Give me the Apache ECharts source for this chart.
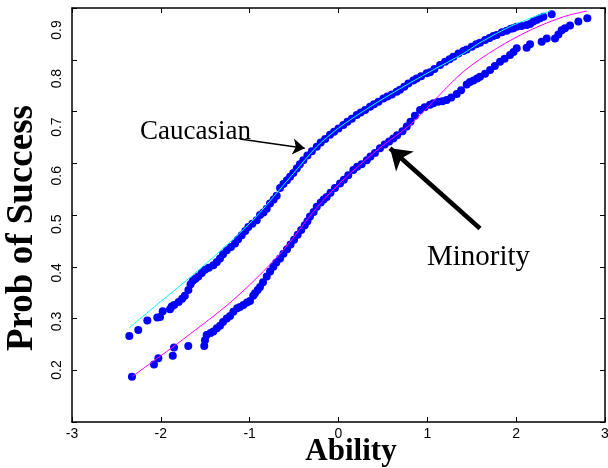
<!DOCTYPE html>
<html>
<head>
<meta charset="utf-8">
<script src="https://cdn.jsdelivr.net/npm/echarts@6/dist/echarts.min.js"></script>
<style>
  html, body { margin: 0; padding: 0; background: #fff; }
  #chart { width: 608px; height: 468px; }
</style>
</head>
<body>
<div id="chart"></div>
<script>
// ---- data ----
const xTicks = [-3, -2, -1, 0, 1, 2, 3];
const yTicks = [0.2, 0.3, 0.4, 0.5, 0.6, 0.7, 0.8, 0.9];

const cauX = [-2.355,-2.254,-2.152,-2.04,-2.009,-1.979,-1.897,-1.878,-1.85,-1.80,-1.76,-1.73,-1.69,-1.665,-1.64,-1.61,-1.578,-1.54,-1.503,-1.46,-1.409,-1.37,-1.334,-1.30,-1.258,-1.21,-1.165,-1.13,-1.09,-1.05,-1.015,-0.97,-0.921,-0.884,-0.845,-0.808,-0.771,-0.73,-0.696,-0.658,-0.62,-0.58,-0.545,-0.509,-0.47,-0.435,-0.396,-0.35,-0.30,-0.245,-0.20,-0.15,-0.096,-0.05,0.00,0.054,0.10,0.15,0.205,0.25,0.30,0.355,0.40,0.45,0.505,0.55,0.60,0.655,0.692,0.74,0.786,0.842,0.88,0.93,0.993,1.03,1.08,1.143,1.20,1.25,1.293,1.35,1.405,1.443,1.50,1.55,1.593,1.65,1.70,1.743,1.781,1.84,1.894,1.94,1.968,2.006,2.06,2.119,2.156,2.193,2.23,2.268,2.306,2.40];
const cauY = [0.266,0.278,0.296,0.302,0.303,0.314,0.318,0.323,0.326,0.332,0.338,0.344,0.355,0.366,0.373,0.377,0.381,0.388,0.394,0.398,0.403,0.409,0.416,0.424,0.432,0.438,0.445,0.453,0.461,0.469,0.477,0.483,0.490,0.500,0.505,0.512,0.522,0.530,0.537,0.552,0.560,0.567,0.574,0.581,0.590,0.598,0.606,0.615,0.623,0.632,0.640,0.647,0.655,0.661,0.667,0.674,0.680,0.686,0.693,0.698,0.703,0.709,0.714,0.719,0.725,0.729,0.733,0.738,0.742,0.748,0.754,0.760,0.764,0.768,0.774,0.776,0.782,0.790,0.796,0.801,0.806,0.812,0.817,0.820,0.825,0.830,0.833,0.838,0.842,0.846,0.848,0.853,0.856,0.860,0.861,0.864,0.865,0.867,0.869,0.874,0.877,0.880,0.883,0.888];

const minX = [-2.325,-2.077,-2.028,-1.866,-1.852,-1.691,-1.511,-1.503,-1.484,-1.44,-1.409,-1.37,-1.334,-1.30,-1.258,-1.221,-1.184,-1.14,-1.109,-1.071,-1.03,-0.996,-0.96,-0.94,-0.91,-0.884,-0.85,-0.808,-0.77,-0.734,-0.70,-0.658,-0.62,-0.58,-0.54,-0.50,-0.46,-0.42,-0.38,-0.35,-0.321,-0.28,-0.245,-0.20,-0.167,-0.133,-0.09,-0.04,0.017,0.06,0.11,0.167,0.21,0.26,0.318,0.36,0.41,0.467,0.52,0.57,0.617,0.66,0.72,0.768,0.81,0.86,0.918,0.97,1.03,1.068,1.12,1.17,1.218,1.27,1.331,1.38,1.443,1.48,1.52,1.56,1.593,1.65,1.706,1.76,1.818,1.87,1.931,1.97,2.006,2.118,2.156,2.287,2.344,2.437,2.475,2.512,2.55,2.606,2.700,2.801];
const minY = [0.1875,0.211,0.223,0.228,0.244,0.247,0.247,0.258,0.268,0.272,0.275,0.281,0.286,0.293,0.300,0.305,0.313,0.320,0.322,0.326,0.331,0.334,0.344,0.349,0.355,0.361,0.370,0.381,0.391,0.400,0.408,0.416,0.425,0.434,0.443,0.452,0.462,0.471,0.480,0.488,0.497,0.506,0.516,0.524,0.530,0.535,0.543,0.552,0.561,0.568,0.577,0.587,0.593,0.598,0.606,0.613,0.620,0.629,0.636,0.642,0.648,0.654,0.662,0.671,0.680,0.692,0.703,0.708,0.713,0.716,0.719,0.720,0.722,0.727,0.734,0.741,0.752,0.757,0.760,0.764,0.767,0.773,0.780,0.788,0.796,0.802,0.809,0.815,0.822,0.823,0.830,0.835,0.841,0.841,0.849,0.857,0.861,0.866,0.874,0.880];

const cyanX = [-2.355,-2.0,-1.709,-1.334,-0.959,-0.658,-0.509,-0.245,0.0,0.355,0.692,1.030,1.405,1.593,1.968,2.381];
const cyanY = [0.282,0.333,0.374,0.430,0.491,0.550,0.580,0.632,0.668,0.709,0.744,0.777,0.812,0.833,0.867,0.894];

const magX = [-2.325,-2.0,-1.747,-1.184,-0.658,-0.245,0.017,0.467,0.805,1.030,1.405,1.781,2.156,2.531,2.794];
const magY = [0.1875,0.228,0.260,0.336,0.425,0.514,0.562,0.630,0.674,0.713,0.777,0.822,0.857,0.883,0.894];

// annotation arrows (tail -> head), in data coordinates
const arrowCau = [[-1.11, 0.647], [-0.38, 0.629]];
const arrowMin = [[1.593, 0.474], [0.58, 0.629]];

const zip = (xs, ys) => xs.map((x, i) => [x, ys[i]]);

const chart = echarts.init(document.getElementById('chart'), null, { renderer: 'canvas' });

const axisLineStyle = { color: '#000', width: 1.5 };
const tickStyle = { show: true, inside: true, length: 5, lineStyle: { color: '#000', width: 1 } };

chart.setOption({
  animation: false,
  backgroundColor: '#fff',
  grid: { left: 72, right: 3, top: 8, bottom: 46, show: false, containLabel: false, outerBoundsMode: 'none' },
  xAxis: [
    {
      type: 'value', min: -3, max: 3, interval: 1, position: 'bottom',
      axisLine: { show: true, onZero: false, lineStyle: axisLineStyle },
      axisTick: tickStyle,
      splitLine: { show: false },
      axisLabel: { color: '#000', fontFamily: 'Liberation Sans', fontSize: 14, margin: 5,
                   showMinLabel: true, showMaxLabel: true, hideOverlap: false,
                   formatter: v => (xTicks.indexOf(v) >= 0 ? String(v) : '') }
    },
    {
      type: 'value', min: -3, max: 3, interval: 1, position: 'top',
      axisLine: { show: true, onZero: false, lineStyle: axisLineStyle },
      axisTick: tickStyle, axisLabel: { show: false }, splitLine: { show: false }
    }
  ],
  yAxis: [
    {
      type: 'value', min: 0.1, max: 0.9, interval: 0.1, position: 'left',
      axisLine: { show: true, onZero: false, lineStyle: axisLineStyle },
      axisTick: tickStyle, axisLabel: { show: false }, splitLine: { show: false }
    },
    {
      type: 'value', min: 0.1, max: 0.9, interval: 0.1, position: 'right',
      axisLine: { show: true, onZero: false, lineStyle: axisLineStyle },
      axisTick: tickStyle, axisLabel: { show: false }, splitLine: { show: false }
    },
    {
      // label-only axis: the reference's tick labels sit on a slightly compressed scale
      type: 'value', min: 0.0929, max: 0.9453, position: 'left',
      axisLine: { show: false }, axisTick: { show: false }, splitLine: { show: false },
      axisLabel: { color: '#000', fontFamily: 'Liberation Sans', fontSize: 14, rotate: 90, margin: 8,
                   customValues: yTicks, formatter: v => v.toFixed(1) }
    }
  ],
  series: [
    {
      name: 'Caucasian', type: 'scatter', data: zip(cauX, cauY),
      symbol: 'circle', symbolSize: 8, itemStyle: { color: '#0000ff', opacity: 1 }, z: 2
    },
    {
      name: 'Minority', type: 'scatter', data: zip(minX, minY),
      symbol: 'circle', symbolSize: 8, itemStyle: { color: '#0000ff', opacity: 1 }, z: 2
    },
    {
      name: 'Caucasian fit', type: 'line', data: zip(cyanX, cyanY), smooth: 0.3,
      showSymbol: false, lineStyle: { color: '#00ffff', width: 1 }, z: 3
    },
    {
      name: 'Minority fit', type: 'line', data: zip(magX, magY), smooth: 0.3,
      showSymbol: false, lineStyle: { color: '#ff00ff', width: 1 }, z: 3
    },
    {
      name: 'arrows', type: 'lines', coordinateSystem: 'cartesian2d', z: 4,
      symbol: ['none', 'arrow'],
      data: [
        { coords: arrowCau, symbolSize: 12, lineStyle: { color: '#000', width: 1.5, opacity: 1 } },
        { coords: arrowMin, symbolSize: 20, lineStyle: { color: '#000', width: 4.5, opacity: 1 } }
      ],
      lineStyle: { color: '#000', opacity: 1, curveness: 0 }
    }
  ],
  graphic: [
    { type: 'text', left: 140, top: 118, style: { text: 'Caucasian', fill: '#000', font: '27px "Liberation Serif"' } },
    { type: 'text', left: 427, top: 243, style: { text: 'Minority', fill: '#000', font: '29px "Liberation Serif"' } },
    { type: 'text', x: 351, y: 452, style: { text: 'Ability', fill: '#000', font: 'bold 31px "Liberation Serif"', align: 'center', verticalAlign: 'middle' } },
    { type: 'text', x: 22, y: 228, rotation: Math.PI / 2, style: { text: 'Prob of Success', fill: '#000', font: 'bold 37px "Liberation Serif"', align: 'center', verticalAlign: 'middle' } }
  ]
});
</script>
</body>
</html>
